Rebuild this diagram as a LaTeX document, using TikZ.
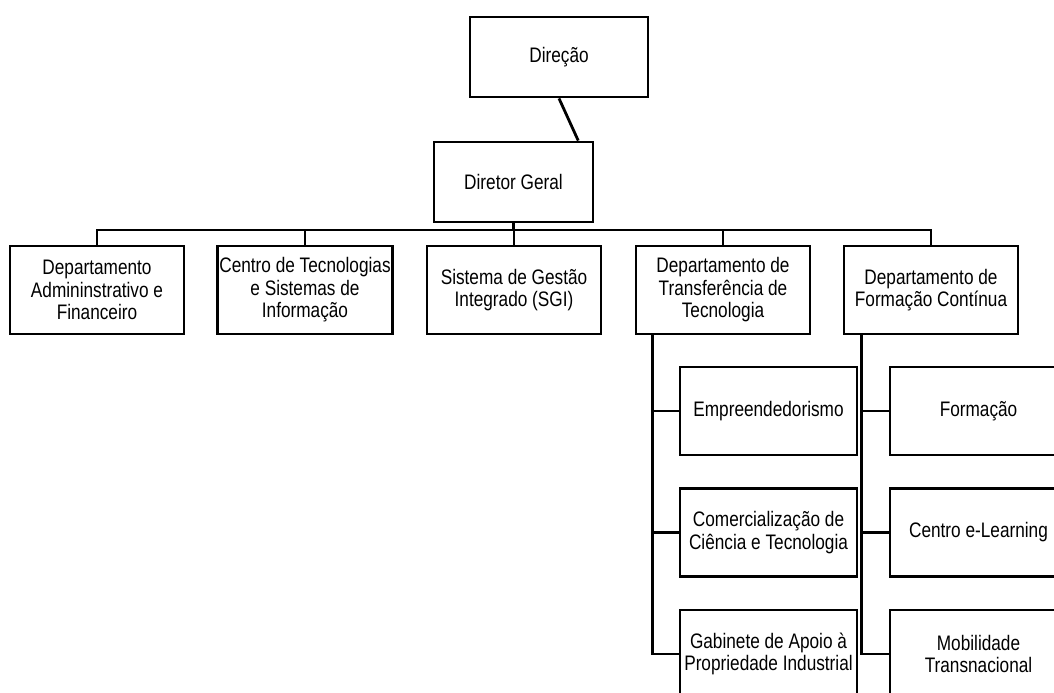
\documentclass[tikz,border=0pt]{standalone}
\usepackage{fontspec}
\setmainfont{Liberation Sans}[FakeStretch=0.82]
\usetikzlibrary{calc}
\tikzset{
  % One pixel of the chart is half a point, rows counted downwards.
  unit/.style  = {draw, line width=1.4pt, align=center, inner sep=1pt,
                  font=\fontsize{10.5}{11.25}\selectfont},
  board/.style = {unit, minimum width=89pt,   minimum height=40pt},
  head/.style  = {unit, minimum width=79.5pt, minimum height=40pt},
  dept/.style  = {unit, minimum width=87pt,   minimum height=44pt},
  sect/.style  = {unit, minimum width=88.5pt, minimum height=44pt},
  link/.style  = {line width=1.4pt},
}

\begin{document}
\begin{tikzpicture}[x=0.5pt, y=-0.5pt]
    \useasboundingbox (0,0) rectangle (1054,692);
    \clip (0,0) rectangle (1054,692);

    \node[board] (dir) at (559,57)    {Direção};
    \node[head]  (dg)  at (513.5,182) {Diretor Geral};

    \node[dept] (d1) at (97,290)  {Departamento\\Admininstrativo e\\Financeiro};
    \node[dept] (d2) at (305,290) {Centro de Tecnologias\\e Sistemas de\\Informação};
    \node[dept] (d3) at (514,290) {Sistema de Gestão\\Integrado (SGI)};
    \node[dept] (d4) at (723,290) {Departamento de\\Transferência de\\Tecnologia};
    \node[dept] (d5) at (931,290) {Departamento de\\Formação Contínua};

    \node[sect] (t1) at (768.5,411)   {Empreendedorismo};
    \node[sect] (t2) at (768.5,532.5) {Comercialização de\\Ciência e Tecnologia};
    \node[sect] (t3) at (768.5,654)   {Gabinete de Apoio à\\Propriedade Industrial};

    \node[sect] (f1) at (978.5,411)   {Formação};
    \node[sect] (f2) at (978.5,532.5) {Centro e-Learning};
    \node[sect] (f3) at (978.5,654)   {Mobilidade\\Transnacional};

    \coordinate (bus) at (0,230);
    \coordinate (tt)  at ($(d4.south west)+(18,0)$);
    \coordinate (ft)  at ($(d5.south west)+(19,0)$);

    \draw[link] (dir.south) -- ($(dg.north west)!0.9!(dg.north east)$);
    \draw[link] (dg.south) -- (dg.south |- bus);
    \draw[link] (d1.north) |- (bus -| d5.north) -- (d5.north);
    \foreach \d in {d2,d3,d4}
        \draw[link] (\d.north) -- (\d.north |- bus);

    % Each department's sections hang from a trunk near its left edge.
    \draw[link] (tt) |- (t3.west);
    \draw[link] (ft) |- (f3.west);
    \foreach \s in {t1,t2}
        \draw[link] (\s.west) -- (\s.west -| tt);
    \foreach \s in {f1,f2}
        \draw[link] (\s.west) -- (\s.west -| ft);
\end{tikzpicture}
\end{document}
